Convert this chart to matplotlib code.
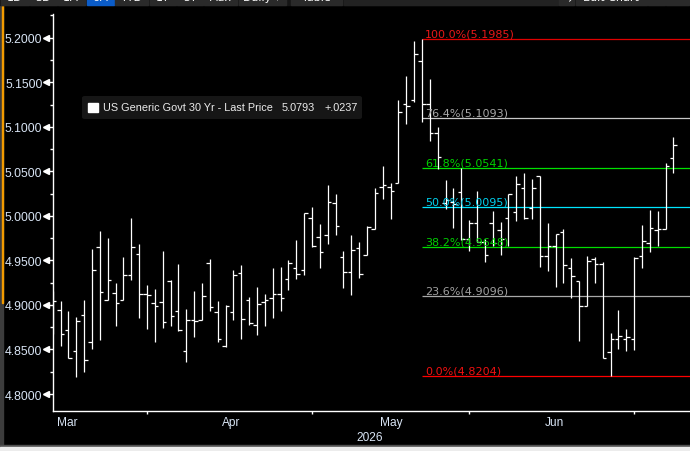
import matplotlib
matplotlib.use('Agg')
import matplotlib.pyplot as plt
from matplotlib.patches import Rectangle, FancyBboxPatch
import numpy as np

# daily OHLC, US Generic Govt 30 Yr
opens = [4.9050, 4.8940, 4.8715, 4.8479, 4.8883, 4.8580, 4.9647, 4.9052, 4.9137, 4.9052,
         4.9332, 4.9568, 4.9126, 4.9018, 4.9029, 4.9265, 4.8928, 4.8479, 4.8827, 4.8827,
         4.9467, 4.8917, 4.8535, 4.8917, 4.9355, 4.9055, 4.8771, 4.9029, 4.9078, 4.9119,
         4.9288, 4.9411, 4.9395, 4.9972, 4.9759, 4.9782, 5.0141, 4.9535, 4.9366, 4.9636,
         4.9557, 4.9849, 5.0320, 5.0320, 5.0372, 5.1259, 5.1304, 5.1733, 5.1252, 5.0930,
         5.0141, 5.0159, 5.0271, 4.9740, 4.9916, 4.9710, 4.9916, 4.9841, 4.9972, 5.0040,
         5.0313, 5.0085, 5.0444, 4.9553, 4.9665, 4.9815, 4.9411, 4.9265, 4.8984, 4.9512,
         4.9456, 4.8468, 4.8614, 4.8614, 4.8614, 4.9546, 4.9692, 4.9838, 4.9849, 5.0646]
highs = [4.9160, 4.9041, 4.8932, 4.8864, 4.9055, 4.9628, 4.9830, 4.9751, 4.9246, 4.9538,
         4.9976, 4.9684, 4.9224, 4.9179, 4.9605, 4.9280, 4.9459, 4.8954, 4.9156, 4.9246,
         4.9515, 4.9044, 4.8999, 4.9392, 4.9448, 4.9089, 4.9201, 4.9123, 4.9414, 4.9426,
         4.9504, 4.9729, 5.0032, 5.0096, 4.9905, 5.0346, 5.0245, 4.9602, 4.9782, 4.9703,
         4.9883, 5.0309, 5.0556, 5.0369, 5.1301, 5.1570, 5.1963, 5.1985, 5.1536, 5.0997,
         5.0402, 5.0313, 5.0540, 4.9953, 5.0276, 4.9740, 5.0051, 4.9927, 5.0242, 5.0444,
         5.0481, 5.0410, 5.0444, 4.9916, 4.9793, 4.9852, 4.9527, 4.9265, 4.9549, 4.9535,
         4.9478, 4.8685, 4.8943, 4.8730, 4.9535, 4.9897, 5.0066, 5.0054, 5.0593, 5.0885]
lows = [4.8673, 4.8542, 4.8401, 4.8194, 4.8250, 4.8508, 4.8609, 4.9052, 4.8767, 4.9052,
        4.9283, 4.8856, 4.8733, 4.8587, 4.8744, 4.8767, 4.8710, 4.8356, 4.8636, 4.8827,
        4.8928, 4.8580, 4.8524, 4.8827, 4.8614, 4.8771, 4.8659, 4.8760, 4.8850, 4.8928,
        4.9167, 4.9291, 4.9339, 4.9647, 4.9418, 4.9687, 4.9785, 4.9187, 4.9115, 4.9299,
        4.9557, 4.9849, 5.0186, 4.9961, 5.0369, 5.1034, 5.1278, 5.1050, 5.0837, 5.0526,
        5.0077, 4.9867, 4.9732, 4.9609, 4.9703, 4.9478, 4.9661, 4.9564, 4.9665, 4.9945,
        4.9965, 4.9965, 4.9422, 4.9377, 4.9196, 4.9249, 4.9081, 4.8598, 4.8984, 4.9249,
        4.8401, 4.8204, 4.8508, 4.8486, 4.8497, 4.9418, 4.9597, 4.9661, 4.9849, 5.0484]
closes = [4.9041, 4.8670, 4.8407, 4.8816, 4.8378, 4.9389, 4.9142, 4.9280, 4.9018, 4.9332,
          4.9647, 4.9119, 4.9108, 4.8984, 4.8805, 4.8872, 4.8715, 4.8827, 4.8816, 4.9097,
          4.8973, 4.8614, 4.8984, 4.9332, 4.8838, 4.8794, 4.9007, 4.9052, 4.9119, 4.9074,
          4.9471, 4.9344, 5.0029, 4.9665, 4.9591, 5.0152, 4.9883, 4.9366, 4.9620, 4.9344,
          4.9871, 5.0253, 5.0350, 5.0276, 5.1166, 5.1237, 5.1817, 5.1256, 5.0930, 5.0658,
          5.0180, 5.0133, 4.9740, 4.9916, 4.9710, 4.9560, 4.9692, 4.9737, 5.0242, 5.0361,
          4.9979, 5.0309, 4.9553, 4.9665, 4.9793, 4.9445, 4.9325, 4.8984, 4.9490, 4.9456,
          4.8401, 4.8614, 4.8648, 4.8636, 4.9523, 4.9714, 4.9860, 4.9849, 5.0556, 5.0793]

month_names = ['Mar', 'Apr', 'May', 'Jun']
month_start = [0, 21, 41, 62]
mid_ticks = [12, 33, 53, 74]
year_label = '2026'

fib_pct = [100.0, 76.4, 61.8, 50.0, 38.2, 23.6, 0.0]
fib_val = [5.1985, 5.1093, 5.0541, 5.0095, 4.9648, 4.9096, 4.8204]
fib_colors = ['#e00000', '#c8c8c8', '#00e000', '#00e5ff', '#00dd00', '#a8a8a8', '#ff0000']
fib_text_colors = ['#e81818', '#a8a8a8', '#00d000', '#00d0ee', '#00d000', '#a0a0a0', '#f01010']
fib_start = 47

security = 'US Generic Govt 30 Yr - Last Price'
last_price = '5.0793'
last_change = '+.0237'

toolbar_buttons = ['1D', '3D', '1M', '6M', 'YTD', '1Y', '5Y', 'Max', 'Daily \u25be', 'Table']
toolbar_edges = [0, 29.5, 57.3, 85.9, 114.5, 148.9, 176.2, 203.5, 237.9, 286.3, 342.7]

W, H = 690, 452
tick_col = '#d8e4f4'

fig = plt.figure(figsize=(W / 100, H / 100), dpi=100, facecolor='black')


def fx(x):
    return x / W


def fy(y):
    return 1 - y / H


# frame pieces around the chart
fig.patches.append(Rectangle((0, 0), fx(3.3), 1, transform=fig.transFigure, color='#3c3c3c', zorder=0))
fig.patches.append(Rectangle((fx(1.7), fy(304)), fx(1.6), fy(6) - fy(304), transform=fig.transFigure,
                             color='#f29b00', zorder=1))
fig.patches.append(Rectangle((0, fy(448)), 1, fy(446) - fy(448), transform=fig.transFigure, color='#505050'))
fig.patches.append(Rectangle((0, 0), 1, fy(448), transform=fig.transFigure, color='#ececec'))

# toolbar strip at the top (cut off in the screenshot)
fig.patches.append(Rectangle((0, fy(5.7)), 1, fy(0) - fy(5.7), transform=fig.transFigure, color='#151515'))
for i, name in enumerate(toolbar_buttons):
    x0, x1 = toolbar_edges[i], toolbar_edges[i + 1]
    if name == 'Table':
        x0 = 290.7
    c = '#0b5cc8' if name == '6M' else '#2a2a2a'
    fig.patches.append(Rectangle((fx(x0 + 0.6), fy(5.7)), fx(x1 - x0 - 1.2), fy(0) - fy(5.7),
                                 transform=fig.transFigure, color=c))
    fig.text(fx((x0 + x1) / 2), fy(1.4), name, color='white', fontsize=8, ha='center', va='baseline',
             family='DejaVu Sans')
fig.patches.append(Rectangle((fx(343.5), fy(5.7)), fx(214), fy(0) - fy(5.7), transform=fig.transFigure,
                             color='#222222'))
for x0, x1, name in [(558.6, 574.9, '\u21c6'), (574.9, 647.6, 'Edit Chart'), (647.6, 665.2, '\u2261'),
                     (665.2, 690, '\u2261')]:
    fig.patches.append(Rectangle((fx(x0 + 0.6), fy(5.7)), fx(x1 - x0 - 1.2), fy(0) - fy(5.7),
                                 transform=fig.transFigure, color='#2a2a2a'))
    fig.text(fx((x0 + x1) / 2), fy(1.4), name, color='white', fontsize=8, ha='center', va='baseline',
             family='DejaVu Sans')

ax = fig.add_axes([fx(52.7), fy(411.7), fx(690 - 52.7), fy(15) - fy(411.7)])
ax.set_facecolor('black')

x = np.arange(len(closes))
ax.vlines(x, lows, highs, color='white', lw=0.9, zorder=3)
ax.hlines(opens, x - 0.45, x, color='white', lw=0.9, zorder=3)
ax.hlines(closes, x, x + 0.45, color='white', lw=0.9, zorder=3)

ax.set_xlim(0, 81.1)
ax.set_ylim(4.7813, 5.2266)

# fibonacci retracement
for p, v, c, tc in zip(fib_pct, fib_val, fib_colors, fib_text_colors):
    ax.hlines(v, fib_start, 81.1, color=c, lw=0.9, zorder=2)
    ax.annotate('%.1f%%(%.4f)' % (p, v), xy=(fib_start, v), xytext=(2.0, 1.9), textcoords='offset points',
                color=tc, fontsize=8.0, family='DejaVu Sans', ha='left', va='baseline', zorder=4)

for s in ['top', 'right']:
    ax.spines[s].set_visible(False)
for s in ['left', 'bottom']:
    ax.spines[s].set_color('white')
    ax.spines[s].set_linewidth(1.0)

yt = np.arange(4.80, 5.2001, 0.05)
ax.set_yticks(yt)
ax.set_yticklabels(['%.4f' % v for v in yt])
ax.set_yticks(np.arange(4.825, 5.2251, 0.05), minor=True)
ax.tick_params(axis='y', which='major', direction='out', length=3.2, width=1, color='white',
               labelcolor=tick_col, labelsize=8.8, pad=4.2)
ax.tick_params(axis='y', which='minor', direction='out', length=2.5, width=1, color='white')
for lab in ax.get_yticklabels():
    lab.set_family('Liberation Sans')
ax.plot(np.full(len(yt), -6.3 / 637.3), yt, ls='none', marker='<', ms=4.2, color='white',
        transform=ax.get_yaxis_transform(), clip_on=False, zorder=5)

ax.set_xticks(mid_ticks)
ax.set_xticklabels([])
ax.tick_params(axis='x', which='major', direction='out', length=2.5, width=1, color='white')

xtr = ax.get_xaxis_transform()
for m, s in zip(month_names, month_start):
    ax.text(s + 0.6, -11.0 / 396.7, m, transform=xtr, color=tick_col, fontsize=8.6,
            family='Liberation Sans', ha='left', va='center')
ax.text(40.4, -26.5 / 396.7, year_label, transform=xtr, color=tick_col, fontsize=8.6,
        family='Liberation Sans', ha='center', va='center')

# legend box
fig.patches.append(FancyBboxPatch((fx(82), fy(120)), fx(280), fy(97) - fy(120),
                                  boxstyle='round,pad=0,rounding_size=0.004', transform=fig.transFigure,
                                  facecolor='#161616', edgecolor='none', zorder=6))
fig.patches.append(Rectangle((fx(88), fy(112.7)), fx(9.7), fy(104) - fy(112.7), transform=fig.transFigure,
                             color='white', zorder=7))
fig.text(fx(102.7), fy(108.5), security, color='#ececec', fontsize=7.8, family='Liberation Sans',
         ha='left', va='center', zorder=8)
fig.text(fx(281.7), fy(108.5), last_price, color='#ececec', fontsize=7.8, family='Liberation Sans',
         ha='left', va='center', zorder=8)
fig.text(fx(324.3), fy(108.5), last_change, color='#ececec', fontsize=7.8, family='Liberation Sans',
         ha='left', va='center', zorder=8)

plt.savefig('out.png', dpi=100, facecolor='black')
plt.close()
print('Done!')
